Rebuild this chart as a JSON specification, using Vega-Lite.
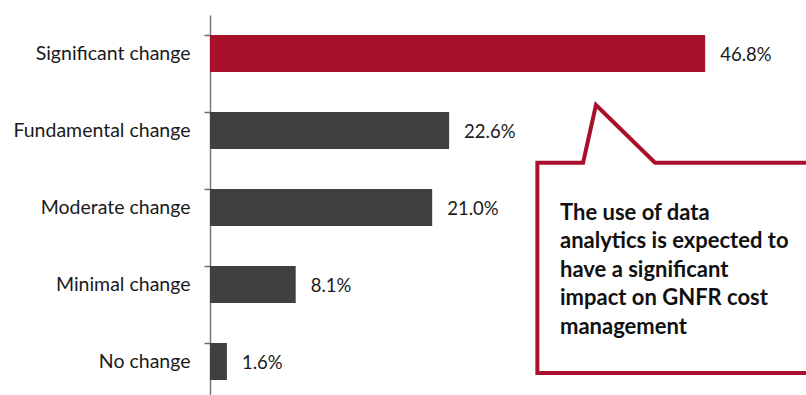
{
  "$schema": "https://vega.github.io/schema/vega-lite/v6.json",
  "autosize": "none",
  "width": 596,
  "height": 380,
  "padding": {"left": 210, "top": 15, "right": 0, "bottom": 0},
  "background": "white",
  "config": {"view": {"stroke": null}, "font": "Lato"},
  "datasets": {
    "bars": [
      {"category": "Significant change", "value": 0.468, "highlight": "yes"},
      {"category": "Fundamental change", "value": 0.226, "highlight": "no"},
      {"category": "Moderate change", "value": 0.210, "highlight": "no"},
      {"category": "Minimal change", "value": 0.081, "highlight": "no"},
      {"category": "No change", "value": 0.016, "highlight": "no"}
    ],
    "callout": [
      {"order": 1, "cx": 0.577, "cy": 4.65},
      {"order": 2, "cx": 0.3094, "cy": 4.65},
      {"order": 3, "cx": 0.3094, "cy": 1.918},
      {"order": 4, "cx": 0.3526, "cy": 1.918},
      {"order": 5, "cx": 0.3648, "cy": 1.169},
      {"order": 6, "cx": 0.4206, "cy": 1.918},
      {"order": 7, "cx": 0.577, "cy": 1.918}
    ]
  },
  "layer": [
    {
      "data": {"name": "bars"},
      "encoding": {
        "y": {
          "field": "category", "type": "nominal", "sort": null,
          "scale": {"range": [0, 385], "paddingInner": 0.52, "paddingOuter": 0.26},
          "axis": {
            "title": null, "bandPosition": 0, "labelFontSize": 19.5, "labelColor": "#1a1a1a",
            "labelFont": "Lato", "labelPadding": 14, "tickSize": 6, "tickColor": "#6b6b6b",
            "tickWidth": 1.5, "domainColor": "#7a7a7a", "domainWidth": 1.5, "labelLimit": 300
          }
        },
        "x": {
          "field": "value", "type": "quantitative",
          "scale": {"domain": [0, 0.5633], "nice": false, "zero": true},
          "axis": null
        }
      },
      "layer": [
        {
          "mark": {"type": "bar"},
          "encoding": {
            "color": {
              "field": "highlight", "type": "nominal",
              "scale": {"domain": ["yes", "no"], "range": ["#A8112B", "#404040"]},
              "legend": null
            }
          }
        },
        {
          "mark": {"type": "text", "align": "left", "baseline": "middle", "dx": 15, "dy": 1, "fontSize": 18.5, "color": "#1a1a1a"},
          "encoding": {
            "text": {"field": "value", "type": "quantitative", "format": ".1%"}
          }
        }
      ]
    },
    {
      "data": {"name": "callout"},
      "mark": {"type": "line", "color": "#A8112B", "strokeWidth": 4, "strokeJoin": "miter", "clip": false},
      "encoding": {
        "x": {"field": "cx", "type": "quantitative"},
        "y": {
          "field": "cy", "type": "quantitative",
          "scale": {"domain": [0, 5], "range": [0, 385], "nice": false, "zero": false},
          "axis": null
        },
        "order": {"field": "order", "type": "quantitative"}
      }
    },
    {
      "data": {"values": [{}]},
      "mark": {
        "type": "text", "align": "left", "baseline": "middle", "fontSize": 22, "fontWeight": "bold",
        "color": "#111111", "lineHeight": 28.5,
        "text": ["The use of data", "analytics is expected to", "have a significant", "impact on GNFR cost", "management"]
      },
      "encoding": {
        "x": {"datum": 0.3308, "type": "quantitative"},
        "y": {"datum": 2.565, "type": "quantitative", "scale": {"domain": [0, 5], "range": [0, 385], "nice": false, "zero": false}, "axis": null}
      }
    }
  ],
  "resolve": {"scale": {"y": "independent"}}
}
